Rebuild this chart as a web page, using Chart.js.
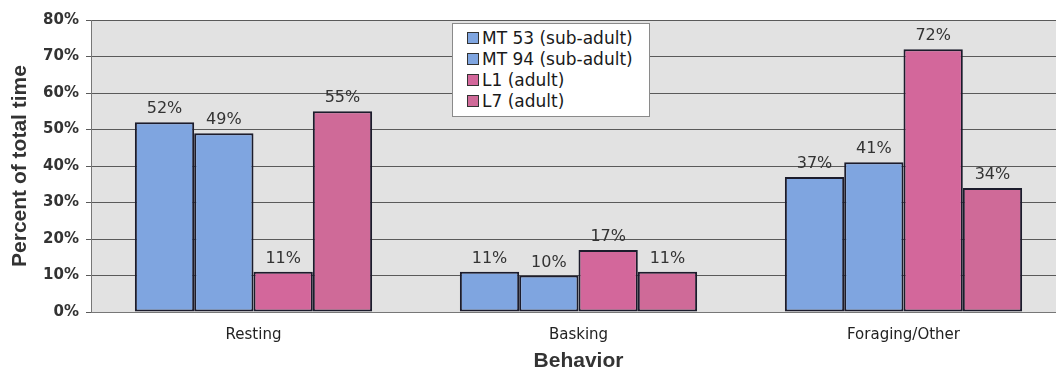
<!DOCTYPE html>
<html>
<head>
<meta charset="utf-8">
<script src="https://cdn.jsdelivr.net/npm/chart.js@4"></script>
<style>
  html,body{margin:0;padding:0;background:#fff;overflow:hidden;width:1056px;height:371px}
  #wrap{position:relative;width:1066px;height:371px}
  #legend{position:absolute;left:452px;top:23px;width:198px;height:94px;background:#fff;
    border:1px solid #8a8a8a;box-sizing:border-box;padding:4px 0 0 14px;
    font:17px "DejaVu Sans",sans-serif;color:#1a1a1a}
  #legend div{height:21px;line-height:21px;white-space:nowrap}
  #legend span{display:inline-block;width:10px;height:10px;border:1px solid #333;margin-right:3px;vertical-align:0px}
</style>
</head>
<body>
<div id="wrap">
  <canvas id="chart" width="1066" height="371"></canvas>
  <div id="legend"></div>
</div>
<script>
// time budget per behaviour, % of observed time
const CATEGORIES = ['Resting', 'Basking', 'Foraging/Other'];
const SERIES = ['MT 53 (sub-adult)', 'MT 94 (sub-adult)', 'L1 (adult)', 'L7 (adult)'];
const MT53 = [52, 11, 37];
const MT94 = [49, 10, 41];
const L1   = [11, 17, 72];
const L7   = [55, 11, 34];
const Y_TICKS = [0, 10, 20, 30, 40, 50, 60, 70, 80];

const BLUE = '#7fa5e0';
const PINK = '#d3679b';
const FILLS = [BLUE, BLUE, PINK, '#cf6a98'];

// grey plot background
const plotBg = {
  id:'plotBg',
  beforeDraw(chart){
    const {ctx, chartArea:a} = chart;
    ctx.save();
    ctx.fillStyle = '#e2e2e2';
    ctx.fillRect(a.left, a.top, a.right - a.left, a.bottom - a.top);
    ctx.restore();
  }
};

// "52%" style labels above bars
const barLabels = {
  id:'barLabels',
  afterDatasetsDraw(chart){
    const ctx = chart.ctx;
    ctx.save();
    ctx.font = '16px "DejaVu Sans", sans-serif';
    ctx.fillStyle = '#333';
    ctx.textAlign = 'center';
    ctx.textBaseline = 'alphabetic';
    chart.data.datasets.forEach((ds, i) => {
      chart.getDatasetMeta(i).data.forEach((bar, j) => {
        ctx.fillText(ds.data[j] + '%', bar.x, bar.y - 9);
      });
    });
    ctx.restore();
  }
};

const datasets = [MT53, MT94, L1, L7].map((d, i) => ({
  label: SERIES[i],
  data: d,
  backgroundColor: FILLS[i],
  borderColor: '#1c1c2c',
  borderWidth: 2,
  borderSkipped: false
}));

const chart = new Chart(document.getElementById('chart'), {
  type:'bar',
  data:{ labels: CATEGORIES, datasets },
  options:{
    responsive:false,
    animation:false,
    layout:{ padding:{ top:20, right:0, left:0, bottom:0 } },
    categoryPercentage:0.73,
    barPercentage:1,
    plugins:{ legend:{display:false}, tooltip:{enabled:false} },
    scales:{
      x:{
        grid:{display:false, drawTicks:false},
        border:{display:true, color:'#777', width:1},
        ticks:{ padding:14, color:'#222', font:{family:'"DejaVu Sans", sans-serif', size:15} },
        title:{ display:true, text:'Behavior', color:'#333',
          font:{family:'"Liberation Sans", Arial, sans-serif', size:21, weight:'bold'},
          padding:{top:0, bottom:-3} },
        afterFit(s){ s.height = 59; }
      },
      y:{
        min:0, max:80,
        afterBuildTicks(s){ s.ticks = Y_TICKS.map(v => ({value:v})); },
        grid:{ color:'#5a5a5a', lineWidth:1, tickLength:5, drawTicks:true },
        border:{display:true, color:'#777', width:1},
        ticks:{ padding:7, color:'#333', callback:v => v + '%',
          font:{family:'"DejaVu Sans", sans-serif', size:15, weight:'bold'} },
        title:{ display:true, text:'Percent of total time', color:'#333',
          font:{family:'"Liberation Sans", Arial, sans-serif', size:21, weight:'bold'},
          padding:{top:8, bottom:0} },
        afterFit(s){ s.width = 91; }
      }
    }
  },
  plugins:[plotBg, barLabels]
});

// legend box in the plot, built from the datasets
document.getElementById('legend').innerHTML = chart.data.datasets.map(ds =>
  `<div><span style="background:${ds.backgroundColor}"></span>${ds.label}</div>`).join('');
</script>
</body>
</html>
